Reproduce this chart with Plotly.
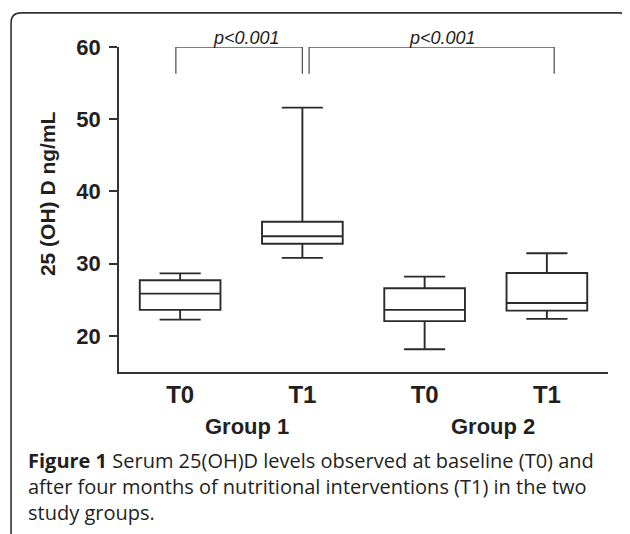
import plotly.graph_objects as go

# ---- data ----
categories = ["T0", "T1", "T0", "T1"]
groups = ["Group 1", "Group 2"]
upper_whisker = [28.65, 51.6, 28.2, 31.45]
q3_values = [27.7, 35.8, 26.6, 28.7]
median_values = [25.85, 33.8, 23.6, 24.55]
q1_values = [23.6, 32.75, 22.05, 23.5]
lower_whisker = [22.25, 30.8, 18.15, 22.35]
y_ticks = [20, 30, 40, 50, 60]
p_labels = ["p<0.001", "p<0.001"]
bracket_pairs = [(0, 1), (1, 3)]
y_title = "25 (OH) D ng/mL"
caption_lines = [
    "<b>Figure 1</b> Serum 25(OH)D levels observed at baseline (T0) and",
    "after four months of nutritional interventions (T1) in the two",
    "study groups.",
]

# page layout (page pixels); the page body has an 8px margin
OFF = 8
PAGE_W, PAGE_H = 630, 534
W, H = PAGE_W - OFF, PAGE_H - OFF
PLOT_L, PLOT_R, PLOT_T, PLOT_B = 119, 608.3, 46.7, 372.3
ML, MT = PLOT_L - OFF, PLOT_T - OFF
MR, MB = W - (PLOT_R - OFF), H - (PLOT_B - OFF)
PW, PH = PLOT_R - PLOT_L, PLOT_B - PLOT_T


def px(xp):
    return (xp - PLOT_L) / PW


def py(yp):
    return (PLOT_B - yp) / PH


DARK = "#2b2b2b"
TXT = "#231f20"
FONT = "Liberation Sans, Arial"

fig = go.Figure()
xs = list(range(len(categories)))
for i in xs:
    fig.add_trace(go.Box(
        x=[i], q1=[q1_values[i]], median=[median_values[i]], q3=[q3_values[i]],
        lowerfence=[lower_whisker[i]], upperfence=[upper_whisker[i]],
        width=0.66, whiskerwidth=0.51,
        line=dict(color=DARK, width=1.9), fillcolor="rgba(255,255,255,0)",
        boxpoints=False, showlegend=False, hoverinfo="skip",
    ))

shapes = []
leg_off = [(-0.035, 0.0), (0.055, 0.06)]
for (a, b), (oa, ob) in zip(bracket_pairs, leg_off):
    x0, x1 = a + oa, b + ob
    shapes.append(dict(type="path", xref="x", yref="y",
                       path=f"M {x0},56.3 L {x0},60 L {x1},60 L {x1},56.3",
                       line=dict(color="#555", width=1.3)))
fl, ft, fr, fb, r = 11, 12.5, 629, 560, 10
path = (f"M {px(fl)},{py(fb)} L {px(fl)},{py(ft + r)} "
        f"Q {px(fl)},{py(ft)} {px(fl + r)},{py(ft)} "
        f"L {px(fr - r)},{py(ft)} Q {px(fr)},{py(ft)} {px(fr)},{py(ft + r)} "
        f"L {px(fr)},{py(fb)}")
shapes.append(dict(type="path", xref="paper", yref="paper", path=path,
                   line=dict(color="#333", width=1.6)))

annotations = []
p_x = [0.54, 2.15]
for lbl, xx in zip(p_labels, p_x):
    annotations.append(dict(x=xx, y=60, xref="x", yref="y", text=f"<i>{lbl}</i>",
                            showarrow=False, yanchor="bottom", yshift=-3,
                            font=dict(family=FONT, size=18, color=TXT)))
group_x = [0.55, 2.56]
for g, gx in zip(groups, group_x):
    annotations.append(dict(x=gx, y=py(427), xref="x", yref="paper", text=f"<b>{g}</b>",
                            showarrow=False, yanchor="middle",
                            font=dict(family=FONT, size=22, color=TXT)))
annotations.append(dict(x=px(47), y=py(194), xref="paper", yref="paper",
                        text=f"<b>{y_title}</b>", textangle=-90, showarrow=False,
                        xanchor="center", yanchor="middle",
                        font=dict(family=FONT, size=21, color=TXT)))
annotations.append(dict(x=px(26), y=py(487), xref="paper", yref="paper",
                        text="<br>".join(caption_lines), showarrow=False,
                        xanchor="left", yanchor="middle", align="left",
                        font=dict(family="Open Sans", size=20, color=TXT)))

fig.update_layout(
    width=W, height=H, margin=dict(l=ML, r=MR, t=MT, b=MB, pad=0),
    paper_bgcolor="white", plot_bgcolor="white",
    shapes=shapes, annotations=annotations, showlegend=False,
    xaxis=dict(range=[-0.5, 3.5], tickvals=xs, ticktext=[f"<b>{c}</b>" for c in categories],
               showline=True, linecolor="#333", linewidth=1.6, ticks="", showgrid=False,
               zeroline=False, tickfont=dict(family=FONT, size=24, color=TXT),
               fixedrange=True),
    yaxis=dict(range=[15, 60], tickvals=y_ticks, ticktext=[f"<b>{t}</b>" for t in y_ticks],
               showline=True, linecolor="#333", linewidth=1.6, ticks="outside", ticklen=8,
               tickwidth=1.6, tickcolor="#333", showgrid=False, zeroline=False,
               ticklabelstandoff=4,
               tickfont=dict(family=FONT, size=22, color=TXT),
               fixedrange=True),
)
fig.write_html("out.html")
